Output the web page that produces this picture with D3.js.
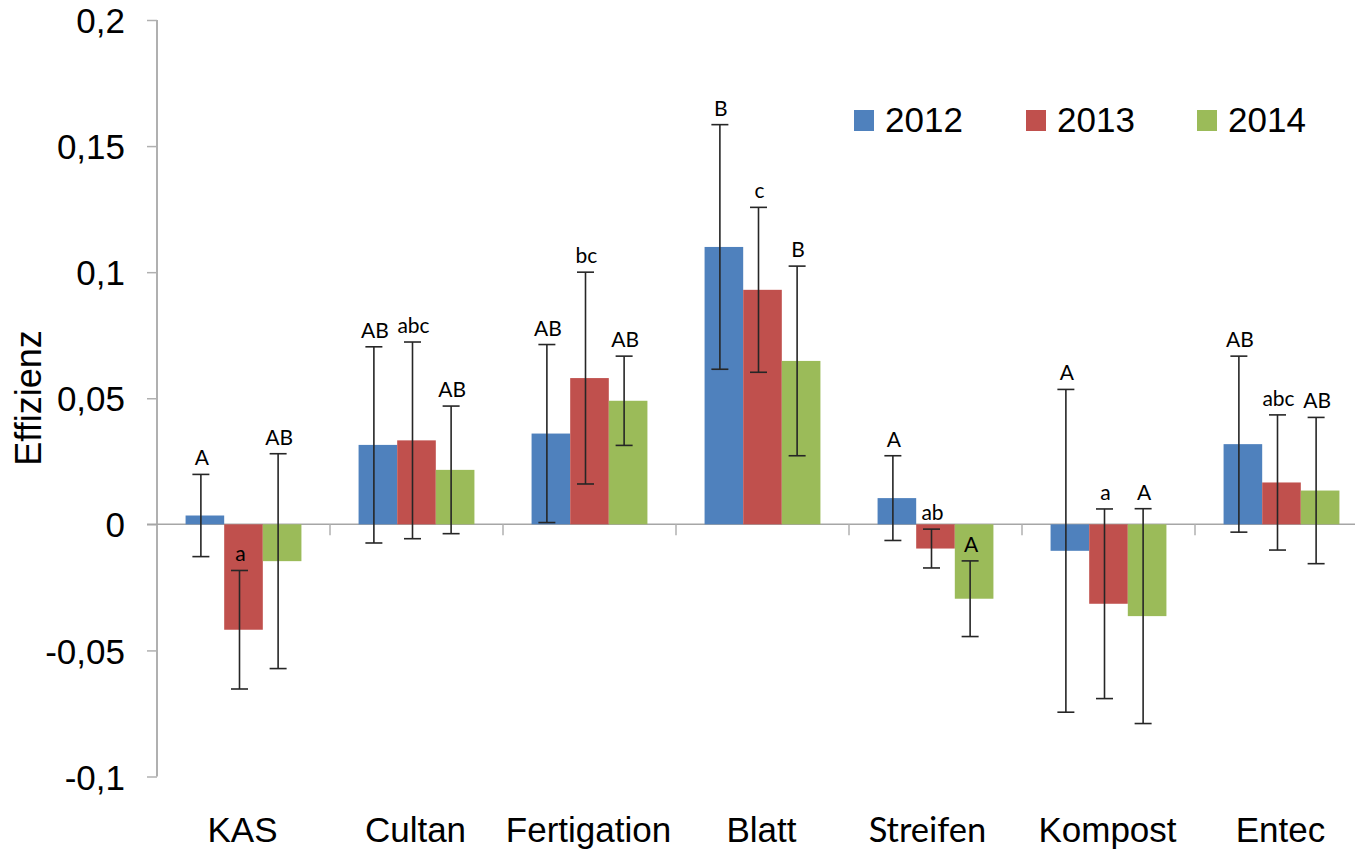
<!DOCTYPE html>
<html>
<head>
<meta charset="utf-8">
<script src="https://cdn.jsdelivr.net/npm/d3@7"></script>
<style>
  html, body { margin: 0; padding: 0; background: #fff; }
  svg { display: block; }
</style>
</head>
<body>
<svg id="chart" width="1355" height="849"></svg>
<script>
// Treatments (x categories) and years (series)
const categories = ["KAS", "Cultan", "Fertigation", "Blatt", "Streifen", "Kompost", "Entec"];
const years = ["2012", "2013", "2014"];

// Mean efficiency per treatment, one array per year
const values2012 = [0.0035, 0.0315, 0.036, 0.110, 0.0104, -0.0105, 0.0318];
const values2013 = [-0.0418, 0.0333, 0.058, 0.093, -0.0096, -0.0315, 0.0166];
const values2014 = [-0.0146, 0.0216, 0.049, 0.0648, -0.0295, -0.0364, 0.0134];

// Error bar half-widths
const errors2012 = [0.0163, 0.0389, 0.0353, 0.0485, 0.0168, 0.064, 0.0349];
const errors2013 = [0.0235, 0.039, 0.042, 0.0327, 0.0077, 0.0376, 0.0268];
const errors2014 = [0.0426, 0.0253, 0.0177, 0.0376, 0.015, 0.0426, 0.029];

// Significance letters
const letters2012 = ["A", "AB", "AB", "B", "A", "A", "AB"];
const letters2013 = ["a", "abc", "bc", "c", "ab", "a", "abc"];
const letters2014 = ["AB", "AB", "AB", "B", "A", "A", "AB"];

// Y-axis ticks and their labels
const yTicks = [-0.1, -0.05, 0, 0.05, 0.1, 0.15, 0.2];
const yTickLabels = ["-0,1", "-0,05", "0", "0,05", "0,1", "0,15", "0,2"];

const colors = ["#4F81BD", "#C0504D", "#9BBB59"];

const seriesValues = [values2012, values2013, values2014];
const seriesErrors = [errors2012, errors2013, errors2014];
const seriesLetters = [letters2012, letters2013, letters2014];

const rows = [];
categories.forEach((c, i) => {
  years.forEach((y, j) => {
    rows.push({ cat: c, year: y, value: seriesValues[j][i], err: seriesErrors[j][i], letter: seriesLetters[j][i] });
  });
});

const svg = d3.select("#chart");
const axisFont = "'Liberation Sans', Arial, sans-serif";
const labelFont = "Lato, 'Open Sans', sans-serif";

const x0 = d3.scaleBand().domain(categories).range([157, 1368]).paddingInner(0).paddingOuter(0);
const x1 = d3.scaleBand().domain(years).range([0, x0.bandwidth()]).paddingOuter(0.74).paddingInner(0);
const y = d3.scaleLinear().domain([-0.1, 0.2]).range([776.5, 20]);

// Y axis
const yAxis = d3.axisLeft(y).tickValues(yTicks).tickSize(10)
  .tickFormat((d, i) => yTickLabels[i]);
const gy = svg.append("g").attr("transform", "translate(157,0)").call(yAxis);
gy.select(".domain").attr("stroke", "#b0b0b0").attr("stroke-width", 2).attr("d", `M0,${y(0.2)}V${y(-0.1)}`);
gy.selectAll(".tick line").attr("stroke", "#b0b0b0").attr("stroke-width", 1.5);
gy.selectAll(".tick text").attr("font-family", axisFont).attr("font-size", 35)
  .attr("fill", "#000").attr("x", -32).attr("dy", "0.36em");

// Zero line with category separators
const zero = y(0);
svg.append("line").attr("x1", 147).attr("x2", 1368).attr("y1", zero).attr("y2", zero)
  .attr("stroke", "#a6a6a6").attr("stroke-width", 1.5);
svg.append("g").selectAll("line").data(categories.slice(1)).join("line")
  .attr("x1", d => x0(d)).attr("x2", d => x0(d))
  .attr("y1", zero).attr("y2", zero + 11)
  .attr("stroke", "#b0b0b0").attr("stroke-width", 1.5);

// Bars
const groups = svg.append("g").selectAll("g").data(categories).join("g")
  .attr("transform", d => `translate(${x0(d)},0)`);

groups.selectAll("rect")
  .data(c => rows.filter(r => r.cat === c))
  .join("rect")
  .attr("x", d => x1(d.year))
  .attr("width", x1.bandwidth())
  .attr("y", d => Math.min(y(d.value), zero))
  .attr("height", d => Math.abs(y(d.value) - zero))
  .attr("fill", d => colors[years.indexOf(d.year)]);

// Error bars
const eb = groups.selectAll("g.err")
  .data(c => rows.filter(r => r.cat === c))
  .join("g").attr("class", "err")
  .attr("transform", d => `translate(${x1(d.year) + x1.bandwidth() / 2 - 4},0)`)
  .attr("stroke", "#262626").attr("stroke-width", 1.6);
eb.append("line").attr("x1", 0).attr("x2", 0)
  .attr("y1", d => y(d.value + d.err)).attr("y2", d => y(d.value - d.err));
eb.append("line").attr("x1", -8.5).attr("x2", 8.5)
  .attr("y1", d => y(d.value + d.err)).attr("y2", d => y(d.value + d.err));
eb.append("line").attr("x1", -8.5).attr("x2", 8.5)
  .attr("y1", d => y(d.value - d.err)).attr("y2", d => y(d.value - d.err));

// Significance letters above the upper whisker
groups.selectAll("text.letter")
  .data(c => rows.filter(r => r.cat === c))
  .join("text").attr("class", "letter")
  .attr("x", d => x1(d.year) + x1.bandwidth() / 2 - 3)
  .attr("y", d => y(d.value + d.err) - 9)
  .attr("text-anchor", "middle")
  .attr("font-family", labelFont).attr("font-size", 21)
  .attr("fill", "#000")
  .text(d => d.letter);

// Category labels
svg.append("g").selectAll("text").data(categories).join("text")
  .attr("x", d => x0(d) + x0.bandwidth() / 2 - (d === "Streifen" ? 8 : 1))
  .attr("y", 842)
  .attr("text-anchor", "middle")
  .attr("font-family", d => d === "Streifen" ? labelFont : axisFont)
  .attr("font-size", d => d === "Streifen" ? 34.5 : 35)
  .attr("fill", "#000")
  .text(d => d);

// Y-axis title
svg.append("text")
  .attr("transform", "translate(41,398) rotate(-90)")
  .attr("text-anchor", "middle")
  .attr("font-family", axisFont).attr("font-size", 36)
  .attr("fill", "#000")
  .text("Effizienz");

// Legend
const legendX = [854, 1026, 1197];
const legend = svg.append("g").selectAll("g").data(years).join("g")
  .attr("transform", (d, i) => `translate(${legendX[i]},110)`);
legend.append("rect").attr("width", 20).attr("height", 21)
  .attr("fill", (d, i) => colors[i]);
legend.append("text").attr("x", 31).attr("y", 22)
  .attr("font-family", axisFont).attr("font-size", 35).attr("fill", "#000")
  .text(d => d);
</script>
</body>
</html>
